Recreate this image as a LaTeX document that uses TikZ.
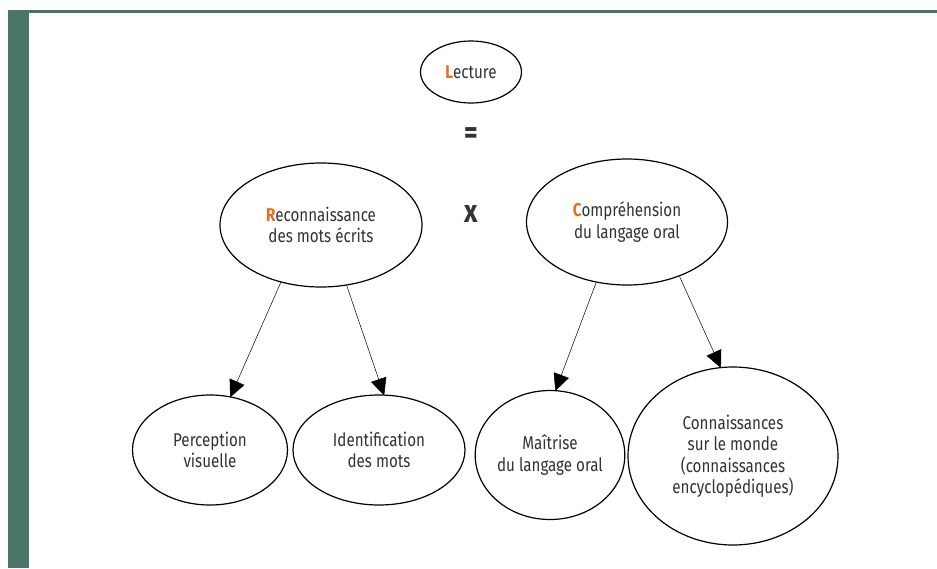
\documentclass[tikz,border=0pt]{standalone}
\usepackage{fontspec}
\setmainfont{Fira Sans}[FakeStretch=0.82]
\usetikzlibrary{shapes.geometric,arrows.meta}
\definecolor{barg}{HTML}{4A7569}
\definecolor{accent}{HTML}{EE6A1F}
\definecolor{txt}{HTML}{333333}
\tikzset{
  ell/.style={ellipse,draw=black,line width=1.2pt,inner sep=0pt,align=center,text=txt,font=\fontsize{18.5}{21.5}\selectfont},
  sym/.style={text=txt,inner sep=0pt},
  arr/.style={line width=0.5pt,-{Triangle[length=17pt,width=16pt]},shorten >=-1pt}
}
\newcommand{\hl}[1]{\textcolor{accent}{\bfseries #1}}
\begin{document}
\begin{tikzpicture}[x=1pt,y=-1pt]
\useasboundingbox (0,0) rectangle (937,568);
\fill[white] (0,0) rectangle (937,568);
\fill[barg] (8,9.5) rectangle (937,12.5);
\fill[barg] (8,9.5) rectangle (29,568);
\node[ell,minimum width=101,minimum height=62] (lec) at (471,72) {\hl{L}ecture};
\node[sym,font=\fontsize{32}{32}\selectfont\bfseries] (eq) at (471,136) {=};
\node[ell,minimum width=202,minimum height=124] (rec) at (321,225) {\hl{R}econnaissance\\des mots écrits};
\node[sym,font=\fontsize{32}{32}\selectfont\bfseries] (times) at (471,214) {x};
\node[ell,minimum width=201,minimum height=126] (comp) at (627,222) {\hl{C}ompréhension\\du langage oral};
\node[ell,minimum width=155,minimum height=110] (perc) at (210,450) {Perception\\visuelle};
\node[ell,minimum width=172,minimum height=110] (ident) at (379,450) {Identification\\des mots};
\node[ell,minimum width=147,minimum height=129] (mait) at (550,455) {Maîtrise\\du langage oral};
\node[ell,minimum width=210,minimum height=178] (conn) at (733,456) {Connaissances\\sur le monde\\(connaissances\\encyclopédiques)};
\draw[arr] (rec.235) -- (perc.69);
\draw[arr] (rec.-67) -- (ident.85);
\draw[arr] (comp.243) -- (mait.85);
\draw[arr] (comp.-46) -- (conn.98);
\end{tikzpicture}
\end{document}
